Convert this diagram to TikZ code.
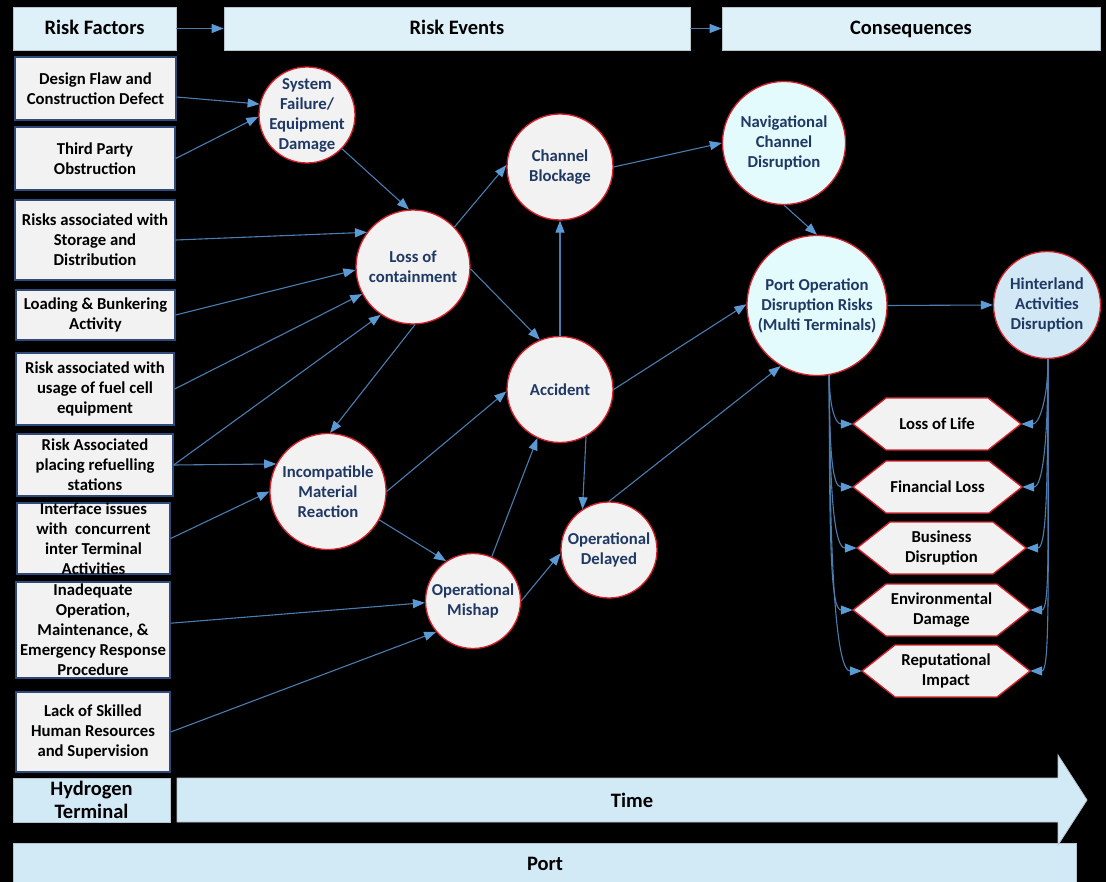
\documentclass[tikz,border=0pt]{standalone}
\usepackage{fontspec}
\setmainfont{Carlito}
\usetikzlibrary{arrows.meta,calc}
\definecolor{boxfill}{HTML}{F2F2F2}
\definecolor{headfill}{HTML}{DEF1F8}
\definecolor{barfill}{HTML}{D2E9F6}
\definecolor{cyanfill}{HTML}{E4FBFD}
\definecolor{hinfill}{HTML}{D2E8F5}
\definecolor{navy}{HTML}{1F3864}
\definecolor{boxline}{HTML}{2F4A7A}
\definecolor{ringred}{HTML}{D9202A}
\definecolor{arrline}{HTML}{4A7DAF}
\definecolor{arrhead}{HTML}{5B9BD5}
\definecolor{headline}{HTML}{B8C4CC}
\tikzset{
 txt/.style={font=\fontsize{16.7}{20}\selectfont\bfseries, align=center, text=black, inner sep=0pt},
 evtxt/.style={font=\fontsize{16.7}{20}\selectfont\bfseries, align=center, text=navy, inner sep=0pt},
 bigtxt/.style={font=\fontsize{20.5}{23}\selectfont\bfseries, align=center, text=black, inner sep=0pt},
 box/.style={draw=boxline, line width=1.4pt, fill=boxfill, inner sep=0pt},
 head/.style={draw=headline, line width=0.8pt, fill=headfill, inner sep=0pt, text height=14pt, text depth=2pt, font=\fontsize{20.5}{23}\selectfont\bfseries},
 bar/.style={draw=headline, line width=0.8pt, fill=barfill, inner sep=0pt},
 ev/.style={circle, draw=ringred, line width=1.3pt, fill=boxfill, inner sep=0pt},
 hexline/.style={draw=ringred, line width=1.3pt, fill=boxfill},
 arr/.style={draw=arrline, line width=1.1pt, -{Triangle[length=12pt,width=9pt,color=arrhead]}},
}
\begin{document}
\begin{tikzpicture}[x=1pt,y=-1pt]
\fill[black] (0,0) rectangle (1106,882);
\useasboundingbox (0,0) rectangle (1106,882);

% headers
\node[head, minimum width=163pt, minimum height=43pt] (rf) at (94.5,28.5) {Risk Factors};
\node[head, minimum width=466pt, minimum height=43pt] (re) at (457,28.5) {Risk Events};
\node[head, minimum width=378pt, minimum height=43pt] (cq) at (911,28.5) {Consequences};
\draw[arr] (rf.east) -- (re.west);
\draw[arr] (re.east) -- (cq.west);

% risk factor boxes
\node[box, minimum width=161pt, minimum height=63pt] (b1) at (95.5,88.5) {};
\node[txt] at (b1) {Design Flaw and\\Construction Defect};
\node[box, minimum width=160pt, minimum height=63pt] (b2) at (95,158.5) {};
\node[txt] at (b2) {Third Party\\Obstruction};
\node[box, minimum width=160pt, minimum height=80pt] (b3) at (95,240) {};
\node[txt] at (b3) {Risks associated with\\Storage and\\Distribution};
\node[box, minimum width=159pt, minimum height=50pt] (b4) at (95.5,315) {};
\node[txt] at (b4) {Loading \& Bunkering\\Activity};
\node[box, minimum width=158pt, minimum height=72pt] (b5) at (95,389) {};
\node[txt] at (b5) {Risk associated with\\usage of fuel cell\\equipment};
\node[box, minimum width=156pt, minimum height=62pt] (b6) at (95,465) {};
\node[txt] at (b6) {Risk Associated\\placing refuelling\\stations};
\node[box, minimum width=153pt, minimum height=71pt] (b7) at (93.5,538.5) {};
\node[txt] at (b7) {Interface issues\\with\ \ concurrent\\inter Terminal\\Activities};
\node[box, minimum width=154pt, minimum height=96pt] (b8) at (93,630) {};
\node[txt] at (b8) {Inadequate\\Operation,\\Maintenance, \&\\Emergency Response\\Procedure};
\node[box, minimum width=154pt, minimum height=80pt] (b9) at (93,732) {};
\node[txt] at (b9) {Lack of Skilled\\Human Resources\\and Supervision};

% bottom bars
\node[bar, minimum width=1063pt, minimum height=40pt] (port) at (544.5,863) {};
\node[bigtxt] at (545,864) {Port};
\draw[bar] (177,778) -- (1058,778) -- (1058,755) -- (1087,800) -- (1058,845) -- (1058,822) -- (177,822) -- cycle;
\node[bigtxt] (time) at (632,800) {Time};
\node[bar, minimum width=157pt, minimum height=44pt] (ht) at (91.5,800) {};
\node[bigtxt] at (ht) {Hydrogen\\Terminal};

% event circles
\node[ev, minimum size=96pt] (sf) at (307,115) {};
\node[evtxt] at (sf) {System\\Failure/\\Equipment\\Damage};
\node[ev, minimum size=114pt] (loss) at (413,267) {};
\node[evtxt] at (loss) {Loss of\\containment};
\node[ev, minimum size=106pt] (cb) at (560,167) {};
\node[evtxt] at (cb) {Channel\\Blockage};
\node[ev, minimum size=106pt] (acc) at (560,389.5) {};
\node[evtxt] at (acc) {Accident};
\node[ev, minimum size=116pt] (inc) at (328,491.5) {};
\node[evtxt] at (inc) {Incompatible\\Material\\Reaction};
\node[ev, minimum size=95pt] (om) at (473,601) {};
\node[evtxt] at (om) {Operational\\Mishap};
\node[ev, minimum size=96pt] (od) at (609,550) {};
\node[evtxt] at (od) {Operational\\Delayed};
\node[ev, fill=cyanfill, minimum size=123pt] (nav) at (784,143) {};
\node[evtxt] at (nav) {Navigational\\Channel\\Disruption};
\node[ev, fill=cyanfill, minimum size=140pt] (po) at (817,305.5) {};
\node[evtxt] at (po) {Port Operation\\Disruption Risks\\(Multi Terminals)};
\node[ev, fill=hinfill, minimum size=107pt] (hin) at (1047,305) {};
\node[evtxt] at (hin) {Hinterland\\Activities\\Disruption};

% consequence hexagons
\foreach \nm/\cx/\cy/\w/\txt in {lol/937/424/168/{Loss of Life}, fin/937.5/487/169/{Financial Loss}, bus/941.5/548/169/{Business\\Disruption}, env/941.5/610/177/{Environmental\\Damage}, rep/946/671/168/{Reputational\\Impact}} {
 \draw[hexline] ({\cx-\w/2},\cy) -- ++(33,-26) -- ++({\w-66},0) -- ++(33,26) -- ++(-33,26) -- ++({66-\w},0) -- cycle;
 \node[txt, minimum width=\w pt, minimum height=52pt] (\nm) at (\cx,\cy) {\txt};
}

% connectors: factors to events
\draw[arr] (b1.-6) -- (sf.167);
\draw[arr] (b2.east) -- (sf.182);
\draw[arr] (b3.east) -- (loss.143);
\draw[arr] (b4.east) -- (loss.183);
\draw[arr] (b5.east) -- (loss.208);
\draw[arr] (b6.east) -- (loss.236);
\draw[arr] (b6.east) -- (inc.152);
\draw[arr] (b7.east) -- (inc.180);
\draw[arr] (b8.5) -- (om.182);
\draw[arr] (b9.east) -- (om.220);

% event to event
\draw[arr] (sf.-44) -- (loss.94);
\draw[arr] (loss.-88) -- (inc.88);
\draw[arr] (loss.44) -- (cb.178);
\draw[arr] (loss.-2) -- (acc.112);
\draw[arr] (acc.north) -- (cb.south);
\draw[arr] (inc.0) -- (acc.182);
\draw[arr] (inc.-29) -- (om.124);
\draw[arr] (om.67) -- (acc.245);
\draw[arr] (acc.-61) -- (od.123);
\draw[arr] (om.0) -- (od.184);

% to consequences
\draw[arr] (cb.0) -- (nav.180);
\draw[arr] (nav.south) -- (po.north);
\draw[arr] (acc.east) -- (po.179);
\draw[arr] (od.north) -- (po.239);
\draw[arr] (po.east) -- (hin.west);

\draw[arr] (po.-80) to[out=-90,in=180,out distance=30pt,in distance=18pt] (lol.west);
\draw[arr] (po.-80) to[out=-90,in=180,out distance=80pt,in distance=20pt] (fin.west);
\draw[arr] (po.-80) to[out=-90,in=180,out distance=125pt,in distance=22pt] (bus.west);
\draw[arr] (po.-80) to[out=-90,in=180,out distance=170pt,in distance=22pt] (env.west);
\draw[arr] (po.-80) to[out=-90,in=180,out distance=215pt,in distance=24pt] (rep.west);

\draw[arr] (hin.-89) to[out=-90,in=0,out distance=40pt,in distance=18pt] (lol.east);
\draw[arr] (hin.-89) to[out=-90,in=0,out distance=85pt,in distance=20pt] (fin.east);
\draw[arr] (hin.-89) to[out=-90,in=0,out distance=130pt,in distance=20pt] (bus.east);
\draw[arr] (hin.-89) to[out=-90,in=0,out distance=175pt,in distance=20pt] (env.east);
\draw[arr] (hin.-89) to[out=-90,in=0,out distance=220pt,in distance=20pt] (rep.east);
\end{tikzpicture}
\end{document}
